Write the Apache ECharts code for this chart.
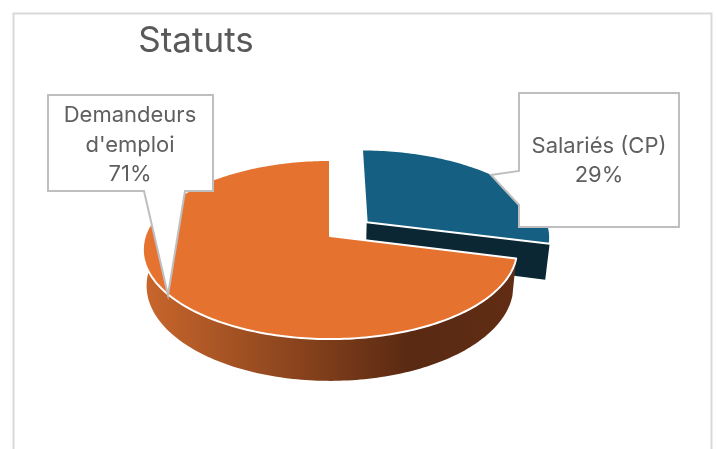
<!DOCTYPE html>
<html><head><meta charset="utf-8">
<style>html,body{margin:0;padding:0;background:#fff}#c{width:716px;height:449px}</style>
<script src="https://cdn.jsdelivr.net/npm/echarts@6/dist/echarts.min.js"></script>
</head><body><div id="c"></div>
<script>
const chartTitle = 'Statuts';
const categories = ['Salariés (CP)', "Demandeurs d'emploi"];
const labelLines = [['Salariés (CP)'], ['Demandeurs', "d'emploi"]];
const values = [29, 71];
const topColors = ['#156082', '#E6722F'];
const total = values.reduce((a, b) => a + b, 0);

// Perspective projection of a unit disc onto the screen
const view = {cx: 330, cy: 236, R: 185, A: 87.5, k: 0.151, H: 35.5, shrink: 0.98};
const explode = [[0.203, -0.162], [0, 0]];

function project(u, v, z) {
  const w = 1 - view.k * v;
  const s = z ? view.shrink : 1;
  return [view.cx + view.R * u / w * s, view.cy + view.A * v / w + view.H * z / w];
}
function rim(a0, a1, off, z) {
  const n = Math.max(2, Math.ceil(Math.abs(a1 - a0) / 0.02)), pts = [];
  for (let i = 0; i <= n; i++) {
    const t = a0 + (a1 - a0) * i / n;
    pts.push(project(off[0] + Math.sin(t), off[1] - Math.cos(t), z));
  }
  return pts;
}
function sliceAngles(i) {
  let before = 0;
  for (let j = 0; j < i; j++) before += values[j];
  return [before / total * 2 * Math.PI, (before + values[i]) / total * 2 * Math.PI];
}
function renderSlice(params, api) {
  const i = params.dataIndex, off = explode[i];
  const [a0, a1] = sliceAngles(i);
  const apex = project(off[0], off[1], 0);
  const children = [];
  if (i === 0) {
    // cut wall along the closing radius
    const end = project(off[0] + Math.sin(a1), off[1] - Math.cos(a1), 0);
    const end2 = project(off[0] + Math.sin(a1), off[1] - Math.cos(a1), 1);
    const apex2 = project(off[0], off[1], 1);
    children.push({type: 'polygon', shape: {points: [apex, end, end2, apex2]},
      style: {fill: '#0A2733'}});
  } else {
    const front = rim(a0, 1.5 * Math.PI, off, 0);
    const back = rim(a0, 1.5 * Math.PI, off, 1).reverse();
    children.push({type: 'polygon', shape: {points: front.concat(back)},
      style: {fill: new echarts.graphic.LinearGradient(0, 0, 1, 0, [
        {offset: 0, color: '#C9662C'},
        {offset: 0.35, color: '#93491F'},
        {offset: 0.72, color: '#592912'},
        {offset: 1, color: '#612D14'}
      ])}});
  }
  children.push({type: 'polygon', shape: {points: [apex].concat(rim(a0, a1, off, 0))},
    style: {fill: api.visual('color'), stroke: '#fff', lineWidth: 2, lineJoin: 'round'}});
  return {type: 'group', children};
}

const pct = values.map(v => Math.round(v / total * 100) + '%');
const FONT = 'Inter, "Open Sans", sans-serif';
function callout(points, cx, cy, lines) {
  return [
    {type: 'polygon', z: 10, shape: {points},
      style: {fill: '#fff', stroke: '#BFBFBF', lineWidth: 2}},
    {type: 'text', z: 11, x: cx, y: cy, style: {text: lines.join('\n'), align: 'center',
      verticalAlign: 'middle', fontFamily: FONT, fontSize: 22, lineHeight: 29.5, fill: '#5F5F5F'}}
  ];
}

const chart = echarts.init(document.getElementById('c'), null, {renderer: 'canvas'});
chart.setOption({
  animation: false,
  backgroundColor: '#fff',
  series: [{
    type: 'custom', coordinateSystem: 'none', clip: false,
    renderItem: renderSlice,
    data: values.map((v, i) => ({name: categories[i], value: [v], itemStyle: {color: topColors[i]}}))
  }],
  graphic: [
    {type: 'rect', z: 0, shape: {x: 13.5, y: 13.5, width: 698, height: 460},
      style: {fill: 'none', stroke: '#D9D9D9', lineWidth: 2}},
    {type: 'text', z: 11, x: 196, y: 41, style: {text: chartTitle, align: 'center', verticalAlign: 'middle',
      fontFamily: FONT, fontSize: 35, fill: '#595959'}},
    ...callout([[48,95],[213,95],[213,191],[185,191],[168,295],[144,191],[48,191]], 130, 145,
      labelLines[1].concat(pct[1])),
    ...callout([[519,93],[679,93],[679,227],[519,227],[519,205],[491,175],[519,171]], 599, 161,
      labelLines[0].concat(pct[0]))
  ]
});
</script></body></html>
